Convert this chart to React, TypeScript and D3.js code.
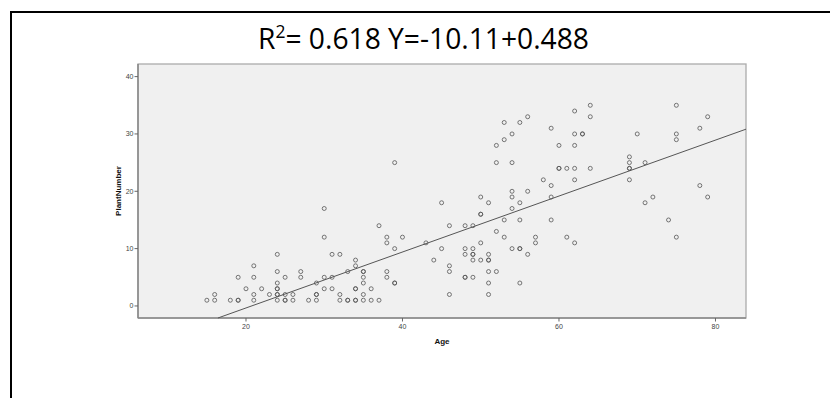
import * as d3 from "d3";

// scatter: Age vs PlantNumber (bold circles in the source are duplicated here)
const ages = [
  15, 16, 16, 18, 19, 19, 19, 20, 21, 21, 21, 21, 22, 23, 24, 24, 24, 24, 24, 24, 24, 24,
  25, 25, 25, 25, 26, 26, 27, 27, 28, 29, 29, 29, 29, 30, 30, 30, 30, 31, 31, 31, 32, 32,
  32, 33, 33, 33, 34, 34, 34, 34, 34, 34, 35, 35, 35, 35, 35, 35, 36, 36, 37, 37, 38, 38,
  38, 38, 39, 39, 39, 39, 40, 43, 44, 45, 45, 46, 46, 46, 46, 48, 48, 48, 48, 48, 49, 49,
  49, 49, 49, 49, 50, 50, 50, 50, 50, 51, 51, 51, 51, 51, 51, 51, 52, 52, 52, 52, 53, 53,
  53, 53, 54, 54, 54, 54, 54, 54, 55, 55, 55, 55, 55, 55, 56, 56, 56, 57, 57, 58, 59, 59,
  59, 59, 60, 60, 60, 61, 61, 62, 62, 62, 62, 62, 62, 63, 63, 64, 64, 64, 69, 69, 69, 69,
  69, 70, 71, 71, 72, 74, 75, 75, 75, 75, 78, 78, 79, 79,
];
const plantNumbers = [
  1, 2, 1, 1, 1, 1, 5, 3, 7, 5, 2, 1, 3, 2, 9, 6, 4, 3, 3, 2, 2, 1,
  5, 2, 1, 1, 2, 1, 6, 5, 1, 4, 2, 2, 1, 17, 12, 5, 3, 9, 5, 3, 9, 2,
  1, 6, 1, 1, 8, 7, 3, 3, 1, 1, 6, 6, 5, 4, 2, 1, 3, 1, 14, 1, 12, 11,
  6, 5, 25, 10, 4, 4, 12, 11, 8, 18, 10, 14, 7, 6, 2, 14, 10, 9, 5, 5, 14, 10,
  9, 9, 8, 5, 19, 16, 16, 11, 8, 18, 9, 8, 8, 6, 4, 2, 28, 25, 13, 6, 32, 29,
  15, 12, 30, 25, 20, 19, 17, 10, 32, 18, 15, 10, 10, 4, 33, 20, 9, 12, 11, 22, 31, 21,
  19, 15, 28, 24, 24, 24, 12, 34, 30, 28, 24, 22, 11, 30, 30, 35, 33, 24, 26, 25, 24, 24,
  22, 30, 25, 18, 19, 15, 35, 30, 29, 12, 31, 21, 33, 19,
];

const xTicks = [20, 40, 60, 80];
const yTicks = [0, 10, 20, 30, 40];
const intercept = -10.11;
const slope = 0.488;

const PLOT = { left: 138, right: 746, top: 64, bottom: 318 };

export default function App() {
  const x = d3.scaleLinear().domain([6.2, 83.9]).range([PLOT.left, PLOT.right]);
  const y = d3.scaleLinear().domain([-2.1, 42.2]).range([PLOT.bottom, PLOT.top]);

  const [xMin, xMax] = x.domain();
  const [yMin] = y.domain();
  const x0 = Math.max(xMin, (yMin - intercept) / slope);
  const fit = d3.line<number>()
    .x((d) => x(d))
    .y((d) => y(intercept + slope * d));

  const points = ages.map((a, i) => ({ a, v: plantNumbers[i] }));

  return (
    <svg
      width={830}
      height={398}
      style={{ position: "absolute", left: 0, top: 0, background: "#fff" }}
      fontFamily="Arial, 'Liberation Sans', sans-serif"
    >
      {/* outer frame */}
      <rect x={11} y={12} width={840} height={400} fill="none" stroke="#000" strokeWidth={2} />

      <text
        x={258}
        y={49}
        fontFamily="'Open Sans', sans-serif"
        fontSize={29}
        fill="#000"
        textLength={331}
        lengthAdjust="spacingAndGlyphs"
      >
        R<tspan fontSize={18} dy={-11}>2</tspan>
        <tspan dy={11}>= 0.618 Y=-10.11+0.488</tspan>
      </text>

      <rect
        x={PLOT.left}
        y={PLOT.top}
        width={PLOT.right - PLOT.left}
        height={PLOT.bottom - PLOT.top}
        fill="#f0f0f0"
        stroke="#ababab"
        strokeWidth={1.3}
      />
      <line x1={PLOT.left} x2={PLOT.left} y1={PLOT.top} y2={PLOT.bottom} stroke="#777" strokeWidth={1.2} />
      <line x1={PLOT.left} x2={PLOT.right} y1={PLOT.bottom} y2={PLOT.bottom} stroke="#888" strokeWidth={1.3} />

      {yTicks.map((t) => (
        <g key={`y${t}`}>
          <line x1={PLOT.left - 3.5} x2={PLOT.left} y1={y(t)} y2={y(t)} stroke="#666" strokeWidth={1} />
          <text x={PLOT.left - 4.5} y={y(t)} dy="0.35em" textAnchor="end" fontSize={7} fill="#444">
            {t}
          </text>
        </g>
      ))}
      {xTicks.map((t) => (
        <g key={`x${t}`}>
          <line x1={x(t)} x2={x(t)} y1={PLOT.bottom} y2={PLOT.bottom + 3.5} stroke="#666" strokeWidth={1} />
          <text x={x(t)} y={PLOT.bottom + 11} textAnchor="middle" fontSize={7} fill="#444">
            {t}
          </text>
        </g>
      ))}

      <text x={(PLOT.left + PLOT.right) / 2} y={344} textAnchor="middle" fontSize={8} fontWeight="bold" fill="#111">
        Age
      </text>
      <text
        transform={`translate(121,${(PLOT.top + PLOT.bottom) / 2}) rotate(-90)`}
        textAnchor="middle"
        fontSize={8}
        fontWeight="bold"
        fill="#111"
      >
        PlantNumber
      </text>

      <path d={fit([x0, xMax]) ?? ""} fill="none" stroke="#555" strokeWidth={1} />

      {points.map((p, i) => (
        <circle key={i} cx={x(p.a)} cy={y(p.v)} r={2} fill="none" stroke="#555" strokeWidth={0.8} />
      ))}
    </svg>
  );
}
